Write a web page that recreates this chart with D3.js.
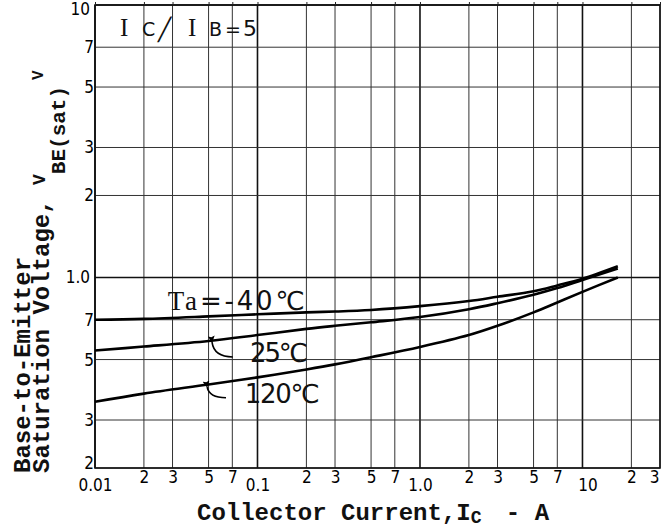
<!DOCTYPE html>
<html>
<head>
<meta charset="utf-8">
<script src="https://cdn.jsdelivr.net/npm/d3@7"></script>
<style>
  body { margin: 0; background: #fff; }
  svg { display: block; background: #fff; }
  .grid line { stroke: #333; stroke-width: 1; }
  .grid line.decade { stroke: #111; stroke-width: 1.6; }
  .frame { fill: none; stroke: #111; stroke-width: 1.6; }
  .curve { fill: none; stroke: #000; stroke-width: 2.6; }
  .axis text { font-family: "DejaVu Sans Condensed", "Liberation Sans Narrow", sans-serif; font-size: 17px; fill: #000; }
  .axis .domain { display: none; }
  .axis line { stroke: #222; }
  .title { font-family: "Liberation Mono", "DejaVu Sans Mono", monospace; font-weight: bold; font-size: 24px; fill: #111; }
  .curve-label { font-family: "DejaVu Sans", sans-serif; font-size: 26px; fill: #111; }
  .leader { fill: none; stroke: #000; stroke-width: 1.6; }
</style>
</head>
<body>
<svg id="vbeChart"></svg>
<script>
// values
var icValues = [0.01, 0.02, 0.05, 0.1, 0.2, 0.3, 0.5, 1, 2, 3, 5, 7, 10, 16.5];
var vbeCold = [0.70, 0.705, 0.72, 0.733, 0.745, 0.75, 0.76, 0.785, 0.82, 0.85, 0.89, 0.935, 0.99, 1.10];
var vbeRoom = [0.54, 0.558, 0.585, 0.615, 0.648, 0.665, 0.685, 0.716, 0.765, 0.805, 0.865, 0.915, 0.98, 1.08];
var vbeHot = [0.35, 0.375, 0.405, 0.43, 0.46, 0.48, 0.51, 0.556, 0.615, 0.665, 0.745, 0.81, 0.886, 1.0];

var xTickValues = [0.01, 0.02, 0.03, 0.05, 0.07, 0.1, 0.2, 0.3, 0.5, 0.7, 1, 2, 3, 5, 7, 10, 20, 30];
var xTickLabels = ["0.01", "2", "3", "5", "7", "0.1", "2", "3", "5", "7", "1.0", "2", "3", "5", "7", "10", "2", "3"];
var yTickValues = [0.2, 0.3, 0.5, 0.7, 1, 2, 3, 5, 7, 10];
var yTickLabels = ["2", "3", "5", "7", "1.0", "2", "3", "5", "7", "10"];

// curve labels: text, Ic, Vbe of the text start (baseline)
var labelTexts = ["=-40℃", "25℃", "120℃"];
var labelIc = [0.028, 0.09, 0.0835];
var labelVbe = [0.76, 0.49, 0.347];
var labelWidths = [137, 58, 75];

// leader arrows: tip (on curve) and tail (next to the label)
var leaderTipIc = [0.0525, 0.049];
var leaderTipVbe = [0.579, 0.396];
var leaderTailIc = [0.0705, 0.064];
var leaderTailVbe = [0.511, 0.362];

var margin = { top: 5, right: 8, bottom: 63, left: 95 };
var width = 668 - margin.left - margin.right;
var height = 531 - margin.top - margin.bottom;

var xScale = d3.scaleLog().domain([0.01, 30]).range([0, width]);
var yScale = d3.scaleLog().domain([0.2, 10]).range([height, 0]);

function isDecade(d) {
    var l = Math.log10(d);
    return Math.abs(l - Math.round(l)) < 1e-9;
}

var svg = d3.select("#vbeChart")
    .attr("width", 668)
    .attr("height", 531);

var chart = svg.append("g")
    .attr("transform", "translate(" + margin.left + "," + margin.top + ")");

// Grid
var grid = chart.append("g").attr("class", "grid");
grid.selectAll(".vline")
    .data(xTickValues)
    .enter().append("line")
    .attr("class", function (d) { return isDecade(d) ? "vline decade" : "vline"; })
    .attr("x1", function (d) { return xScale(d); })
    .attr("x2", function (d) { return xScale(d); })
    .attr("y1", 0)
    .attr("y2", height);
grid.selectAll(".hline")
    .data(yTickValues)
    .enter().append("line")
    .attr("class", function (d) { return isDecade(d) ? "hline decade" : "hline"; })
    .attr("x1", 0)
    .attr("x2", width)
    .attr("y1", function (d) { return yScale(d); })
    .attr("y2", function (d) { return yScale(d); });

chart.append("rect")
    .attr("class", "frame")
    .attr("width", width)
    .attr("height", height);

// small ticks over the top edge
chart.append("g")
    .attr("class", "axis")
    .call(d3.axisTop(xScale).tickValues(xTickValues).tickSize(3).tickFormat(""));

// X Axis
var xAxis = chart.append("g")
    .attr("class", "axis")
    .attr("transform", "translate(0," + height + ")")
    .call(d3.axisBottom(xScale)
        .tickValues(xTickValues)
        .tickSize(0)
        .tickPadding(3)
        .tickFormat(function (d, i) { return xTickLabels[i]; }));
xAxis.selectAll("text")
    .attr("dy", function (d) { return isDecade(d) ? "1.15em" : "0.71em"; })
    .attr("dx", function (d) { return d === 30 ? -6 : (d === 10 ? 5 : 0); });

// Y Axis
var yAxis = chart.append("g")
    .attr("class", "axis")
    .call(d3.axisLeft(yScale)
        .tickValues(yTickValues)
        .tickSize(0)
        .tickPadding(1)
        .tickFormat(function (d, i) { return yTickLabels[i]; }));
yAxis.selectAll("text")
    .attr("dy", function (d) { return d === 10 ? "0.55em" : (d === 0.2 ? "0.0em" : "0.32em"); })
    .attr("dx", function (d) { return d === 10 || d === 1 ? -4 : 0; });

// Curves
var line = d3.line()
    .x(function (d) { return xScale(d[0]); })
    .y(function (d) { return yScale(d[1]); })
    .curve(d3.curveCatmullRom.alpha(0.5));

[vbeCold, vbeRoom, vbeHot].forEach(function (series) {
    chart.append("path")
        .datum(icValues.map(function (ic, i) { return [ic, series[i]]; }))
        .attr("class", "curve")
        .attr("d", line);
});

// Curve labels
svg.append("defs").append("marker")
    .attr("id", "head")
    .attr("viewBox", "0 0 10 10")
    .attr("refX", 1)
    .attr("refY", 5)
    .attr("markerWidth", 7)
    .attr("markerHeight", 7)
    .attr("markerUnits", "userSpaceOnUse")
    .attr("orient", "auto-start-reverse")
    .append("path")
    .attr("d", "M0,5 L10,0 L8,5 L10,10 Z")
    .attr("fill", "#000");

labelTexts.forEach(function (t, i) {
    var txt = chart.append("text")
        .attr("class", "curve-label")
        .attr("x", xScale(labelIc[i]))
        .attr("y", yScale(labelVbe[i]))
        .attr("textLength", labelWidths[i])
        .attr("lengthAdjust", "spacing");
    if (i === 0) {
        txt.append("tspan")
            .style("font-family", "'Liberation Serif', serif")
            .style("font-size", "27px")
            .text("Ta");
    }
    txt.append("tspan").text(t);
});

leaderTipIc.forEach(function (ic, i) {
    var x0 = xScale(ic), y0 = yScale(leaderTipVbe[i]);
    var x1 = xScale(leaderTailIc[i]), y1 = yScale(leaderTailVbe[i]);
    chart.append("path")
        .attr("class", "leader")
        .attr("marker-start", "url(#head)")
        .attr("d", "M" + x0 + "," + y0 + " Q" + (x0 + 2) + "," + y1 + " " + x1 + "," + y1);
});

// Condition note
var note = svg.append("text")
    .attr("y", 36)
    .style("font-family", "'DejaVu Sans', sans-serif")
    .style("fill", "#111");
note.append("tspan").attr("x", 120).style("font-family", "'Liberation Serif', serif").style("font-size", "25px").text("I");
note.append("tspan").attr("x", 142).style("font-size", "19px").text("C");
note.append("tspan").attr("x", 158).attr("dy", 1).style("font-size", "22px").text("╱");
note.append("tspan").attr("x", 188).attr("dy", -1).style("font-family", "'Liberation Serif', serif").style("font-size", "25px").text("I");
note.append("tspan").attr("x", 209).style("font-size", "19px").text("B");
note.append("tspan").attr("x", 225).style("font-size", "19px").text("=");
note.append("tspan").attr("x", 243).style("font-size", "22px").text("5");

// Axis titles
var xTitle = svg.append("text")
    .attr("class", "title")
    .attr("x", 197)
    .attr("y", 520);
xTitle.append("tspan").text("Collector Current,I");
xTitle.append("tspan").attr("dy", 3).style("font-size", "18px").text("C");
xTitle.append("tspan").attr("dy", -3).attr("dx", 10).text(" - A");

svg.append("text")
    .attr("class", "title")
    .attr("transform", "translate(30,473) rotate(-90)")
    .text("Base-to-Emitter");

var yTitle = svg.append("text")
    .attr("class", "title")
    .attr("transform", "translate(49,473) rotate(-90)");
yTitle.append("tspan").text("Saturation Voltage, ");
yTitle.append("tspan").attr("dy", -4).style("font-size", "18px").text("V");
yTitle.append("tspan").attr("dy", 20).style("font-size", "21px").text("BE(sat)");
yTitle.append("tspan").attr("dy", -22).attr("dx", 6).style("font-size", "16px").text("V");
</script>
</body>
</html>
